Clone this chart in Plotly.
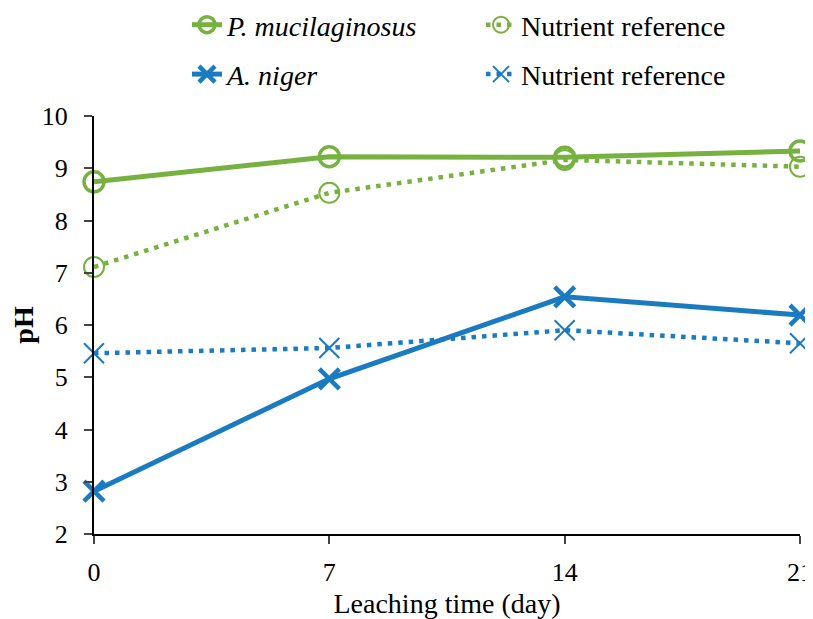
import plotly.graph_objects as go

days = [0, 7, 14, 21]
p_muc = [8.74, 9.22, 9.21, 9.33]
p_ref = [7.11, 8.53, 9.16, 9.03]
a_niger = [2.82, 4.97, 6.54, 6.19]
a_ref = [5.46, 5.56, 5.90, 5.65]

green = "#77B140"
blue = "#1B7BC0"
FONT = "Times New Roman, Liberation Serif, serif"
DOT = "4.5px,6px"

fig = go.Figure()
fig.add_trace(go.Scatter(x=days, y=p_muc, name="<i>P. mucilaginosus</i>", mode="lines+markers",
                         line=dict(color=green, width=5),
                         marker=dict(symbol="circle-open", size=20, line=dict(width=3.5, color=green)),
                         legend="legend", legendgroup="a"))
fig.add_trace(go.Scatter(x=days, y=a_niger, name="<i>A. niger</i>", mode="lines+markers",
                         line=dict(color=blue, width=5),
                         marker=dict(symbol="x-thin-open", size=20, line=dict(width=4.5, color=blue)),
                         legend="legend", legendgroup="b"))
fig.add_trace(go.Scatter(x=days, y=p_ref, name="Nutrient reference", mode="lines+markers",
                         line=dict(color=green, width=4.5, dash=DOT),
                         marker=dict(symbol="circle-open", size=20, line=dict(width=2, color=green)),
                         legend="legend2", legendgroup="c"))
fig.add_trace(go.Scatter(x=days, y=a_ref, name="Nutrient reference", mode="lines+markers",
                         line=dict(color=blue, width=4.5, dash=DOT),
                         marker=dict(symbol="x-thin-open", size=20, line=dict(width=2, color=blue)),
                         legend="legend2", legendgroup="d"))
for tr in fig.data:
    tr.cliponaxis = False

# the page adds an 8 px body margin at top-left, so the figure is 8 px smaller
W, H = 805, 611
L, R, T, B = 86, 13, 108, 85
PW = W - L - R
PH = H - T - B

leg_common = dict(orientation="v", yanchor="top", xanchor="left", tracegroupgap=10,
                  font=dict(family=FONT, size=28, color="black"), bgcolor="rgba(0,0,0,0)",
                  itemwidth=30)
fig.update_layout(
    width=W, height=H,
    margin=dict(l=L, r=R, t=T, b=B, autoexpand=False),
    plot_bgcolor="white", paper_bgcolor="white",
    font=dict(family=FONT, size=26, color="black"),
    showlegend=True,
    legend=dict(x=(179 - L) / PW, y=1 + (T + 8) / PH, **leg_common),
    legend2=dict(x=(473 - L) / PW, y=1 + (T + 8) / PH, **leg_common),
    xaxis=dict(range=[0, 21], tickvals=days, ticks="outside", ticklen=8, tickwidth=2,
               showline=True, linecolor="black", linewidth=2, showgrid=False, zeroline=False,
               tickfont=dict(family=FONT, size=26), ticklabelstandoff=6, automargin=False,
               title=dict(text="Leaching time (day)", font=dict(family=FONT, size=28), standoff=18)),
    yaxis=dict(range=[2, 10], dtick=1, ticks="outside", ticklen=8, tickwidth=2,
               showline=True, linecolor="black", linewidth=2, showgrid=False, zeroline=False,
               tickfont=dict(family=FONT, size=26), ticklabelstandoff=11, automargin=False,
               title=dict(text="<b>pH</b>", font=dict(family=FONT, size=28), standoff=17)),
)

fig.write_html("out.html")
